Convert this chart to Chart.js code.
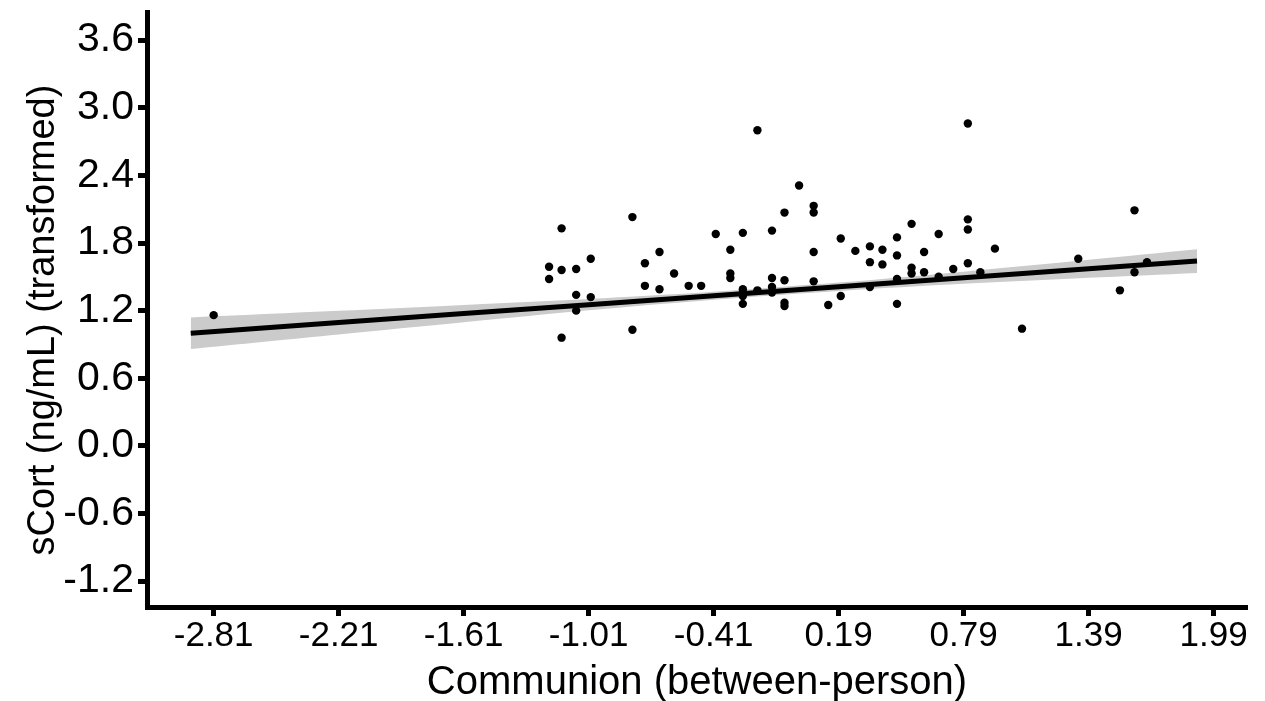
<!DOCTYPE html>
<html>
<head>
<meta charset="utf-8">
<script src="https://cdn.jsdelivr.net/npm/chart.js@4.4.1/dist/chart.umd.min.js"></script>
<style>
  html, body { margin: 0; padding: 0; background: #fff; }
  #wrap { width: 1265px; height: 701px; }
</style>
</head>
<body>
<div id="wrap"><canvas id="c" width="1265" height="701"></canvas></div>
<script>
// Tick labels
const xTicks = [-2.81, -2.21, -1.61, -1.01, -0.41, 0.19, 0.79, 1.39, 1.99];
const yTicks = [-1.2, -0.6, 0.0, 0.6, 1.2, 1.8, 2.4, 3.0, 3.6];

// Observed points (communion, sCort)
const pointsX = [-2.81, -1.20, -1.20, -1.14, -1.14, -1.14, -1.07, -1.07, -1.07, -1.00, -1.00,
  -0.80, -0.80, -0.74, -0.74, -0.67, -0.67, -0.60, -0.53, -0.47, -0.40,
  -0.33, -0.33, -0.33, -0.27, -0.27, -0.27, -0.27, -0.27, -0.20, -0.20,
  -0.13, -0.13, -0.13, -0.13, -0.07, -0.07, -0.07, -0.07, 0.00, 0.07, 0.07, 0.07, 0.07,
  0.14, 0.20, 0.20, 0.27, 0.34, 0.34, 0.34, 0.40, 0.40, 0.47, 0.47, 0.47, 0.47,
  0.54, 0.54, 0.54, 0.60, 0.60, 0.67, 0.67, 0.74, 0.81, 0.81, 0.81, 0.81,
  0.87, 0.94, 1.07, 1.34, 1.54, 1.61, 1.61, 1.67];
const pointsY = [1.16, 1.59, 1.48, 1.93, 1.56, 0.96, 1.57, 1.34, 1.20, 1.66, 1.32,
  2.03, 1.03, 1.62, 1.42, 1.72, 1.39, 1.53, 1.42, 1.42, 1.88,
  1.74, 1.53, 1.49, 1.89, 1.39, 1.36, 1.33, 1.26, 2.80, 1.38,
  1.91, 1.49, 1.41, 1.36, 2.07, 1.47, 1.27, 1.24, 2.31, 2.13, 2.07, 1.72, 1.46,
  1.25, 1.84, 1.33, 1.73, 1.77, 1.63, 1.41, 1.74, 1.61, 1.85, 1.69, 1.48, 1.26,
  1.97, 1.58, 1.53, 1.72, 1.54, 1.88, 1.50, 1.57, 2.86, 2.01, 1.92, 1.62,
  1.54, 1.75, 1.04, 1.66, 1.38, 2.09, 1.54, 1.63];

// Fitted line and confidence band (read at positions)
const fitX = [-2.92, -2.21, -1.61, -1.01, -0.41, 0.19, 0.79, 1.39, 1.91];
const fitY = [1.000, 1.094, 1.174, 1.253, 1.332, 1.412, 1.492, 1.571, 1.640];
const bandLower = [0.860, 0.989, 1.097, 1.203, 1.297, 1.375, 1.438, 1.491, 1.535];
const bandUpper = [1.140, 1.199, 1.251, 1.303, 1.367, 1.449, 1.546, 1.651, 1.745];

const toXY = (xs, ys) => xs.map((x, i) => ({ x: x, y: ys[i] }));

const font = 'Liberation Sans, Arial, Helvetica, sans-serif';

new Chart(document.getElementById('c'), {
  type: 'scatter',
  data: {
    datasets: [
      {
        type: 'line', label: 'upper', data: toXY(fitX, bandUpper),
        borderWidth: 0, borderColor: 'rgba(0,0,0,0)', pointRadius: 0,
        fill: '+1', backgroundColor: '#cbcbcb', order: 4, tension: 0.3
      },
      {
        type: 'line', label: 'lower', data: toXY(fitX, bandLower),
        borderWidth: 0, borderColor: 'rgba(0,0,0,0)', pointRadius: 0,
        fill: false, order: 4, tension: 0.3
      },
      {
        type: 'scatter', label: 'points', data: toXY(pointsX, pointsY),
        pointRadius: 4.2, pointBackgroundColor: '#000', pointBorderWidth: 0,
        order: 2
      },
      {
        type: 'line', label: 'fit', data: toXY(fitX, fitY),
        borderColor: '#000', borderWidth: 5, pointRadius: 0, fill: false,
        order: 1, tension: 0
      }
    ]
  },
  options: {
    responsive: false,
    animation: false,
    devicePixelRatio: 1,
    layout: { padding: { left: 0, right: 18, top: 12, bottom: 0 } },
    plugins: { legend: { display: false }, tooltip: { enabled: false } },
    scales: {
      x: {
        type: 'linear', min: -3.13, max: 2.15,
        afterFit: (s) => { s.height = 94; s.paddingLeft = 0; s.paddingRight = 0; },
        afterBuildTicks: (s) => { s.ticks = xTicks.map(v => ({ value: v })); },
        border: { display: true, color: '#000', width: 5 },
        grid: { display: true, drawOnChartArea: false, drawTicks: true, tickLength: 9, tickWidth: 5, tickColor: '#000' },
        ticks: {
          autoSkip: false, maxRotation: 0, color: '#000', padding: 3,
          font: { family: font, size: 35, lineHeight: 1.0 },
          callback: (v) => Number(v).toFixed(2)
        },
        title: {
          display: true, text: 'Communion (between-person)', color: '#000',
          font: { family: font, size: 40, lineHeight: 0.9 }, padding: { top: 0, bottom: 0 }
        }
      },
      y: {
        type: 'linear', min: -1.43, max: 3.85,
        afterFit: (s) => { s.width = 147; s.paddingTop = 0; s.paddingBottom = 0; },
        afterBuildTicks: (s) => { s.ticks = yTicks.map(v => ({ value: v })); },
        border: { display: true, color: '#000', width: 5 },
        grid: { display: true, drawOnChartArea: false, drawTicks: true, tickLength: 9, tickWidth: 5, tickColor: '#000' },
        ticks: {
          autoSkip: false, color: '#000', padding: 4,
          font: { family: font, size: 41, lineHeight: 1.0 },
          callback: (v) => Number(v).toFixed(1)
        },
        title: {
          display: true, text: 'sCort (ng/mL) (transformed)  ', color: '#000',
          font: { family: font, size: 38, lineHeight: 1 }, padding: { top: 25, bottom: 0 }
        }
      }
    }
  }
});
</script>
</body>
</html>
